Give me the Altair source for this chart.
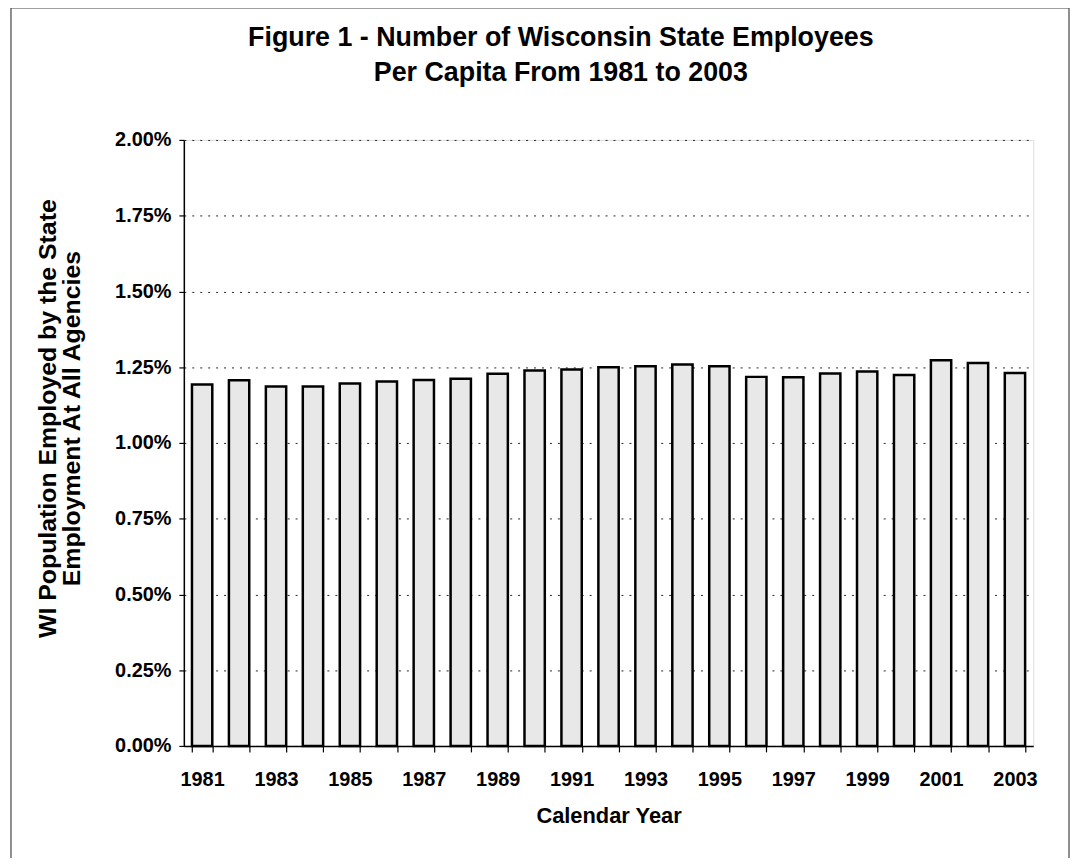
import altair as alt
import pandas as pd

years = [str(y) for y in range(1981, 2004)]
share_pct = [1.193, 1.207, 1.186, 1.186, 1.196, 1.203, 1.208, 1.212, 1.228, 1.239,
             1.242, 1.250, 1.253, 1.259, 1.253, 1.218, 1.217, 1.229, 1.236, 1.224,
             1.273, 1.264, 1.231]
y_ticks = [0, 0.25, 0.5, 0.75, 1.0, 1.25, 1.5, 1.75, 2.0]

title_lines = ["Figure 1 - Number of Wisconsin State Employees", "Per Capita From 1981 to 2003"]
y_title = ["WI Population Employed by the State", "Employment At All Agencies"]
x_title = "Calendar Year"

df = pd.DataFrame({"year": years, "share": share_pct})
FONT = "Liberation Sans"

bars = alt.Chart(df).mark_bar(
    fill="#e8e8e8", stroke="black", strokeWidth=2.5
).encode(
    x=alt.X("year:O", title=x_title,
            scale=alt.Scale(paddingInner=0.45, paddingOuter=0.22),
            axis=alt.Axis(labelAngle=0, tickBand="extent",
                          labelExpr="parseInt(datum.label) % 2 == 1 ? datum.label : ''",
                          labelFont=FONT, labelFontSize=20, labelFontWeight="bold",
                          labelColor="black", labelPadding=18,
                          titleFont=FONT, titleFontSize=22, titleFontWeight="bold",
                          titleColor="black", titlePadding=16,
                          domainColor="black", domainWidth=1.5,
                          tickColor="black", tickSize=6, tickWidth=1.2, grid=False)),
    y=alt.Y("share:Q", title=y_title,
            scale=alt.Scale(domain=[0, 2], nice=False, zero=True),
            axis=alt.Axis(values=y_ticks,
                          labelExpr="format(datum.value, '.2f') + '%'",
                          labelFont=FONT, labelFontSize=20, labelFontWeight="bold",
                          labelColor="black", labelPadding=8,
                          titleFont=FONT, titleFontSize=25, titleFontWeight="bold",
                          titleColor="black", titlePadding=30, titleLineHeight=24,
                          titleY=280,
                          domainColor="black", domainWidth=1.5,
                          tickColor="black", tickSize=5, tickWidth=1.2,
                          grid=True, gridColor="black", gridDash=[2, 6],
                          gridWidth=1, gridOpacity=0.85)),
)

frame = alt.Chart(pd.DataFrame({"k": [0]})).mark_rect(
    fill=None, stroke="#444", strokeWidth=1.2
).encode(
    x=alt.value(-174), x2=alt.value(891), y=alt.value(-133), y2=alt.value(740)
)

chart = alt.layer(frame, bars).properties(
    width=855, height=610,
    padding={"left": 177, "top": 130, "right": 37, "bottom": 110},
    autosize=alt.AutoSizeParams(type="none"),
    title=alt.TitleParams(text=title_lines, font=FONT, fontSize=27, fontWeight="bold",
                          color="black", anchor="middle", frame="group",
                          offset=-80, lineHeight=35, dx=-48),
).configure_view(stroke="#444", strokeWidth=1).configure(background="white")

chart.save("out.html", embed_options={"renderer": "svg", "actions": False})
